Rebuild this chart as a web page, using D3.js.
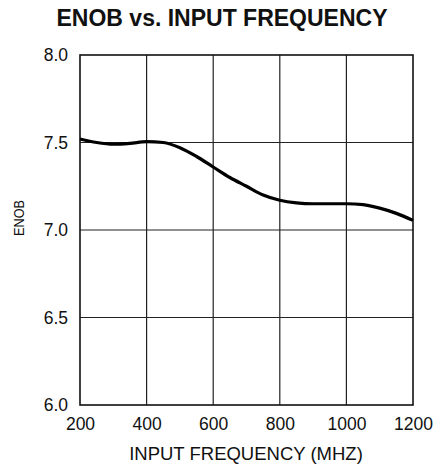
<!DOCTYPE html>
<html>
<head>
<meta charset="utf-8">
<script src="https://cdn.jsdelivr.net/npm/d3@7"></script>
<style>
  html, body { margin: 0; padding: 0; background: #fff; }
  svg { display: block; font-family: "Liberation Sans", Arial, sans-serif; }
</style>
</head>
<body>
<svg id="chart" width="441" height="470"></svg>
<script>
// ENOB measured across input frequency
const freqMHz = [200, 250, 300, 350, 400, 450, 500, 550, 600, 650, 700, 750, 800, 850, 900, 950, 1000, 1050, 1100, 1150, 1200];
const enob    = [7.52, 7.50, 7.49, 7.495, 7.505, 7.50, 7.47, 7.42, 7.36, 7.30, 7.25, 7.20, 7.17, 7.155, 7.15, 7.15, 7.15, 7.145, 7.125, 7.095, 7.055];
const xTicks = [200, 400, 600, 800, 1000, 1200];
const yTicks = [6.0, 6.5, 7.0, 7.5, 8.0];

const svg = d3.select("#chart");
const plot = { left: 80, right: 413, top: 55, bottom: 405 };

const x = d3.scaleLinear().domain([200, 1200]).range([plot.left, plot.right]);
const y = d3.scaleLinear().domain([6.0, 8.0]).range([plot.bottom, plot.top]);

// Title
svg.append("text")
  .attr("x", 222).attr("y", 26)
  .attr("text-anchor", "middle")
  .attr("font-weight", "bold")
  .attr("font-size", 23)
  .attr("fill", "#111")
  .text("ENOB vs. INPUT FREQUENCY");

// Grid
const grid = svg.append("g").attr("stroke", "#222").attr("stroke-width", 1.2);
grid.selectAll("line.v").data(xTicks.slice(1, -1)).join("line")
  .attr("x1", d => x(d)).attr("x2", d => x(d))
  .attr("y1", plot.top).attr("y2", plot.bottom);
grid.selectAll("line.h").data(yTicks.slice(1, -1)).join("line")
  .attr("x1", plot.left).attr("x2", plot.right)
  .attr("y1", d => y(d)).attr("y2", d => y(d));

// Frame
svg.append("rect")
  .attr("x", plot.left).attr("y", plot.top)
  .attr("width", plot.right - plot.left).attr("height", plot.bottom - plot.top)
  .attr("fill", "none").attr("stroke", "#111").attr("stroke-width", 1.6);

// Axes (labels only, frame drawn above)
const xAxis = svg.append("g")
  .attr("transform", `translate(0,${plot.bottom})`)
  .call(d3.axisBottom(x).tickValues(xTicks).tickSize(0).tickPadding(13).tickFormat(d3.format("d")));
xAxis.select(".domain").remove();
xAxis.selectAll("text").attr("font-size", 17.5).attr("fill", "#111")
  .attr("font-family", "Liberation Sans, Arial, sans-serif");

const yAxis = svg.append("g")
  .attr("transform", `translate(${plot.left},0)`)
  .call(d3.axisLeft(y).tickValues(yTicks).tickSize(0).tickPadding(12).tickFormat(d3.format(".1f")));
yAxis.select(".domain").remove();
yAxis.selectAll("text").attr("font-size", 17.5).attr("fill", "#111")
  .attr("font-family", "Liberation Sans, Arial, sans-serif");

// Axis titles
svg.append("text")
  .attr("x", 246).attr("y", 460)
  .attr("text-anchor", "middle")
  .attr("font-size", 18.5).attr("fill", "#111")
  .text("INPUT FREQUENCY (MHZ)");

svg.append("text")
  .attr("transform", `translate(24,218) rotate(-90)`)
  .attr("text-anchor", "middle")
  .attr("font-size", 15.5).attr("fill", "#111")
  .attr("textLength", 36).attr("lengthAdjust", "spacingAndGlyphs")
  .text("ENOB");

// Curve
const line = d3.line()
  .x((d, i) => x(freqMHz[i]))
  .y(d => y(d))
  .curve(d3.curveMonotoneX);

svg.append("path")
  .datum(enob)
  .attr("d", line)
  .attr("fill", "none")
  .attr("stroke", "#000")
  .attr("stroke-width", 3.2)
  .attr("stroke-linejoin", "round");
</script>
</body>
</html>
